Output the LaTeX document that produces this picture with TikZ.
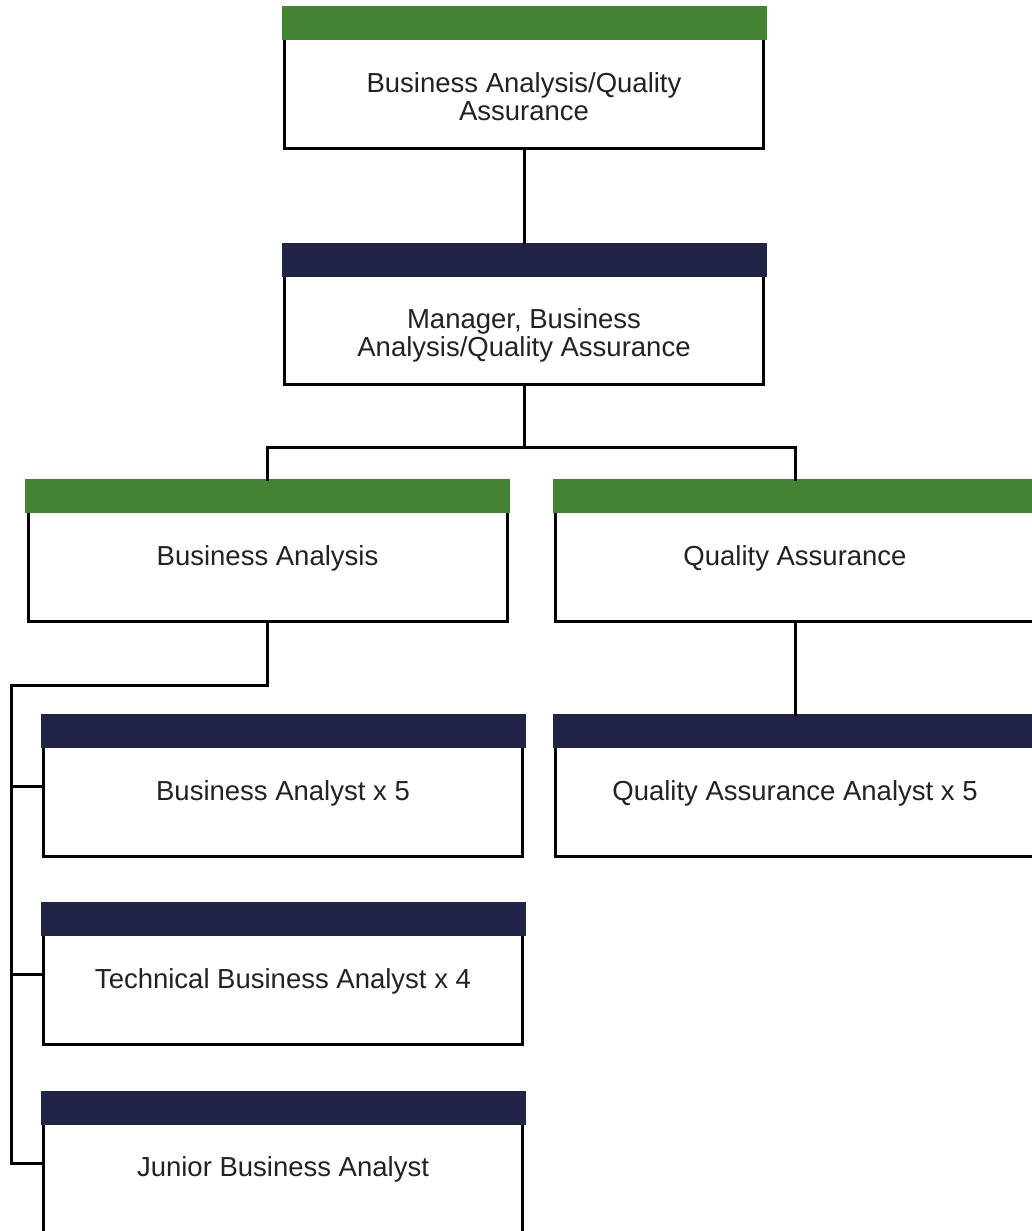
\documentclass[tikz,border=0pt]{standalone}
\usepackage{fontspec}
\setmainfont{Liberation Sans}
\usepackage{tikz}
\usetikzlibrary{calc}
\usetikzlibrary{positioning}

\definecolor{hdrgreen}{RGB}{68,131,51}
\definecolor{hdrnavy}{RGB}{33,36,71}
\definecolor{txtgray}{RGB}{34,34,34}

\tikzset{
  captext/.style={anchor=north, align=center, inner sep=0pt, text=txtgray,
                  font=\fontsize{27.5pt}{27.5pt}\selectfont},
  wire/.style={draw=black, line width=3pt}
}

\begin{document}
\begin{tikzpicture}[x=1pt,y=-1pt]
	\useasboundingbox (0,0) rectangle (1032,1231);
	\clip (0,0) rectangle (1032,1231);

	% boxes
	\begin{scope}[every node/.style={rectangle, draw, line width=3pt, fill=white,
	              minimum width=479pt, minimum height=139pt, inner sep=0pt}]
		\node (top) at (524,79) {};
		\node (mgr) at (524,315) {};
		\node (ba) at (267.5,551.5) {};
		\node (qa) at (795,551.5) {};
		\node (baan) at (283,786.5) {};
		\node (tba) at (283,974.5) {};
		\node (jba) at (283,1163) {};
		\node (qaan) at (795,786.5) {};
	\end{scope}

	% header bars
	\foreach \n/\c in {top/hdrgreen, mgr/hdrnavy, ba/hdrgreen, qa/hdrgreen,
	                   baan/hdrnavy, tba/hdrnavy, jba/hdrnavy, qaan/hdrnavy}{
		\fill[\c] ([xshift=-1.5pt,yshift=1.5pt]\n.north west)
		          rectangle ([xshift=1.5pt,yshift=-32.5pt]\n.north east);
	}

	% titles
	\node[captext] (top-t) at ([yshift=-64.5pt]top.north) {Business Analysis/Quality\\Assurance};
	\node[captext] (mgr-t) at ([yshift=-64.5pt]mgr.north) {Manager, Business\\Analysis/Quality Assurance};
	\node[captext] (ba-t) at ([yshift=-64.5pt]ba.north) {Business Analysis};
	\node[captext] (qa-t) at ([yshift=-64.5pt]qa.north) {Quality Assurance};
	\node[captext] (baan-t) at ([yshift=-64.5pt]baan.north) {Business Analyst x 5};
	\node[captext] (tba-t) at ([yshift=-64.5pt]tba.north) {Technical Business Analyst x 4};
	\node[captext] (jba-t) at ([yshift=-64.5pt]jba.north) {Junior Business Analyst};
	\node[captext] (qaan-t) at ([yshift=-64.5pt]qaan.north) {Quality Assurance Analyst x 5};

	% connectors
	\coordinate (split) at (524,447);
	\coordinate (rail) at (11,685);
	\path[wire] (top.south) -- (mgr.north);
	\path[wire] (mgr.south) -- (split) -| (ba.north);
	\path[wire] (split) -| (qa.north);
	\path[wire] (qa.south) -- (qaan.north);
	\path[wire] (ba.south) |- (rail) -- (rail |- jba.west) -- (jba.west);
	\foreach \n in {baan,tba}{\path[wire] (rail |- \n.west) -- (\n.west);}
\end{tikzpicture}
\end{document}
